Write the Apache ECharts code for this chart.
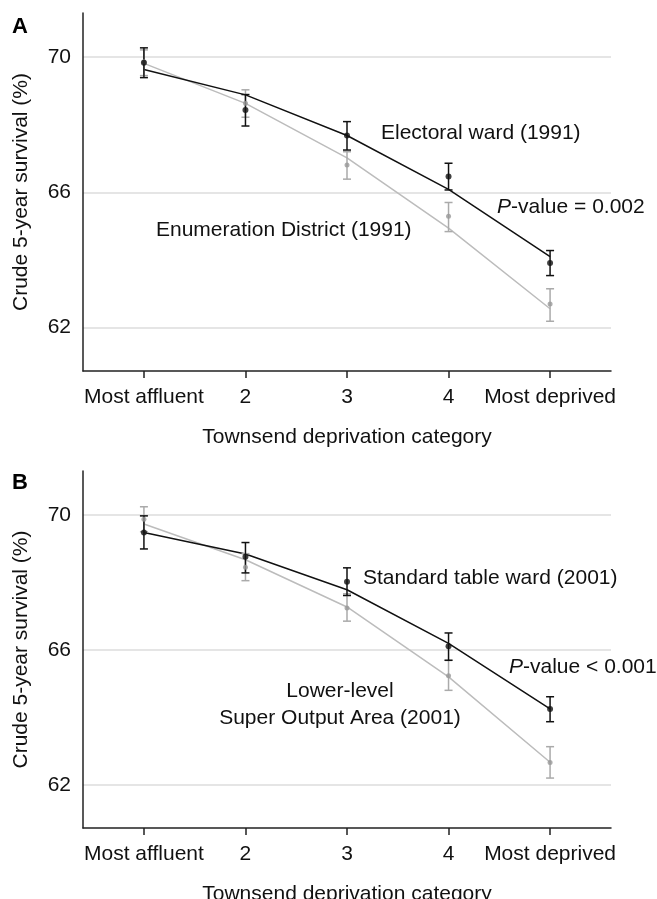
<!DOCTYPE html>
<html>
<head>
<meta charset="utf-8">
<script src="https://cdn.jsdelivr.net/npm/echarts@6/dist/echarts.min.js"></script>
<style>
  html, body { margin: 0; padding: 0; background: #fff; }
  #chart { width: 657px; height: 899px; }
</style>
</head>
<body>
<div id="chart"></div>
<script>
// categories on the x axis
const categories = ['Most affluent', '2', '3', '4', 'Most deprived'];
const catPos = [1, 2, 3, 4, 5];
const yTicks = [62, 66, 70];

// panel A - Electoral ward (1991), black
const wardMean91 = [69.83, 68.43, 67.68, 66.47, 63.91];
const wardLow91 = [69.39, 67.96, 67.25, 66.07, 63.54];
const wardHigh91 = [70.27, 68.89, 68.09, 66.86, 64.28];
const wardFit91 = [69.63, 68.88, 67.68, 66.09, 64.10];
// panel A - Enumeration District (1991), grey
const edMean91 = [69.86, 68.63, 66.81, 65.29, 62.70];
const edLow91 = [69.45, 68.22, 66.39, 64.84, 62.19];
const edHigh91 = [70.21, 69.03, 67.20, 65.70, 63.15];
const edFit91 = [69.81, 68.63, 67.02, 64.94, 62.56];

// panel B - Standard table ward (2001), black
const stwMean01 = [69.48, 68.76, 68.02, 66.11, 64.25];
const stwLow01 = [68.99, 68.28, 67.61, 65.69, 63.87];
const stwHigh01 = [69.97, 69.18, 68.43, 66.50, 64.61];
const stwFit01 = [69.48, 68.84, 67.78, 66.19, 64.25];
// panel B - Lower-level Super Output Area (2001), grey
const lsoaMean01 = [69.87, 68.45, 67.24, 65.23, 62.66];
const lsoaLow01 = [69.50, 68.05, 66.85, 64.80, 62.20];
const lsoaHigh01 = [70.24, 68.85, 67.66, 65.69, 63.13];
const lsoaFit01 = [69.73, 68.67, 67.27, 65.20, 62.67];

const BLACK = '#111';
const GREY = '#bcbcbc';
const FONT = 'Liberation Sans, Arial, sans-serif';

function pairs(vals) {
    return catPos.map((x, i) => [x, vals[i]]);
}
function bars(low, high) {
    return catPos.map((x, i) => [x, low[i], high[i]]);
}

function errorBars(idx, low, high, color) {
    return {
        type: 'custom',
        xAxisIndex: idx,
        yAxisIndex: idx,
        z: 3,
        data: bars(low, high),
        renderItem: function (params, api) {
            const top = api.coord([api.value(0), api.value(2)]);
            const bot = api.coord([api.value(0), api.value(1)]);
            const w = 4;
            const st = { stroke: color, lineWidth: 1.5 };
            return {
                type: 'group',
                children: [
                    { type: 'line', shape: { x1: top[0], y1: top[1], x2: bot[0], y2: bot[1] }, style: st },
                    { type: 'line', shape: { x1: top[0] - w, y1: top[1], x2: top[0] + w, y2: top[1] }, style: st },
                    { type: 'line', shape: { x1: bot[0] - w, y1: bot[1], x2: bot[0] + w, y2: bot[1] }, style: st }
                ]
            };
        }
    };
}

function fitLine(idx, vals, color, grid) {
    const s = {
        type: 'line',
        xAxisIndex: idx,
        yAxisIndex: idx,
        data: pairs(vals),
        symbol: 'none',
        z: 2,
        lineStyle: { color: color, width: 1.5 }
    };
    if (grid) {
        // light horizontal gridlines at the labelled values
        s.markLine = {
            silent: true,
            symbol: 'none',
            label: { show: false },
            lineStyle: { color: '#dddddd', width: 1.5, type: 'solid' },
            z: 0,
            data: yTicks.map(v => ({ yAxis: v }))
        };
    }
    return s;
}

function points(idx, vals, color, size) {
    return {
        type: 'scatter',
        xAxisIndex: idx,
        yAxisIndex: idx,
        data: pairs(vals),
        symbol: 'circle',
        symbolSize: size,
        z: 4,
        itemStyle: { color: color }
    };
}

function xAxis(idx) {
    return {
        type: 'value',
        gridIndex: idx,
        min: 0.4,
        max: 5.6,
        name: 'Townsend deprivation category',
        nameLocation: 'middle',
        nameGap: 56,
        nameTextStyle: { fontFamily: FONT, fontSize: 21, color: '#111' },
        axisLine: { lineStyle: { color: '#222', width: 1.5 } },
        axisTick: { show: true, length: 7, customValues: catPos, lineStyle: { color: '#222', width: 1.5 } },
        axisLabel: {
            customValues: catPos,
            margin: 16,
            fontFamily: FONT,
            fontSize: 21,
            color: '#111',
            formatter: v => categories[Math.round(v) - 1]
        },
        splitLine: { show: false }
    };
}

function yAxis(idx) {
    return {
        type: 'value',
        gridIndex: idx,
        min: 60.72,
        max: 71.3,
        name: 'Crude 5-year survival (%)',
        nameLocation: 'middle',
        nameGap: 51,
        nameTextStyle: { fontFamily: FONT, fontSize: 21, color: '#111' },
        axisLine: { show: true, lineStyle: { color: '#222', width: 1.5 } },
        axisTick: { show: false, customValues: yTicks },
        axisLabel: { customValues: yTicks, margin: 12, fontFamily: FONT, fontSize: 21, color: '#111' },
        splitLine: { show: false }
    };
}

function note(x, y, text, align) {
    return {
        type: 'text',
        style: {
            x: x,
            y: y,
            text: text,
            align: align || 'left',
            verticalAlign: 'middle',
            fontFamily: FONT,
            fontSize: 21,
            lineHeight: 27,
            fill: '#111',
            rich: { i: { fontStyle: 'italic', fontFamily: FONT, fontSize: 21, fill: '#111' } }
        }
    };
}

const chart = echarts.init(document.getElementById('chart'));
chart.setOption({
    animation: false,
    grid: [
        { left: 83, top: 13, width: 528, height: 358, outerBoundsMode: 'none' },
        { left: 83, top: 471, width: 528, height: 357, outerBoundsMode: 'none' }
    ],
    xAxis: [xAxis(0), xAxis(1)],
    yAxis: [yAxis(0), yAxis(1)],
    graphic: [
        { type: 'text', left: 12, top: 16, style: { text: 'A', fontFamily: FONT, fontSize: 22, fontWeight: 'bold', fill: '#000' } },
        { type: 'text', left: 12, top: 472, style: { text: 'B', fontFamily: FONT, fontSize: 22, fontWeight: 'bold', fill: '#000' } },
        note(381, 133, 'Electoral ward (1991)'),
        note(497, 207, '{i|P}-value = 0.002'),
        note(156, 230, 'Enumeration District (1991)'),
        note(363, 578, 'Standard table ward (2001)'),
        note(509, 667, '{i|P}-value < 0.001'),
        note(340, 705, 'Lower-level\nSuper Output Area (2001)', 'center')
    ],
    series: [
        fitLine(0, edFit91, GREY, true),
        fitLine(0, wardFit91, BLACK),
        errorBars(0, edLow91, edHigh91, '#aaaaaa'),
        errorBars(0, wardLow91, wardHigh91, BLACK),
        points(0, edMean91, '#999999', 5),
        points(0, wardMean91, BLACK, 6),

        fitLine(1, lsoaFit01, GREY, true),
        fitLine(1, stwFit01, BLACK),
        errorBars(1, lsoaLow01, lsoaHigh01, '#aaaaaa'),
        errorBars(1, stwLow01, stwHigh01, BLACK),
        points(1, lsoaMean01, '#999999', 5),
        points(1, stwMean01, BLACK, 6)
    ]
});
</script>
</body>
</html>
